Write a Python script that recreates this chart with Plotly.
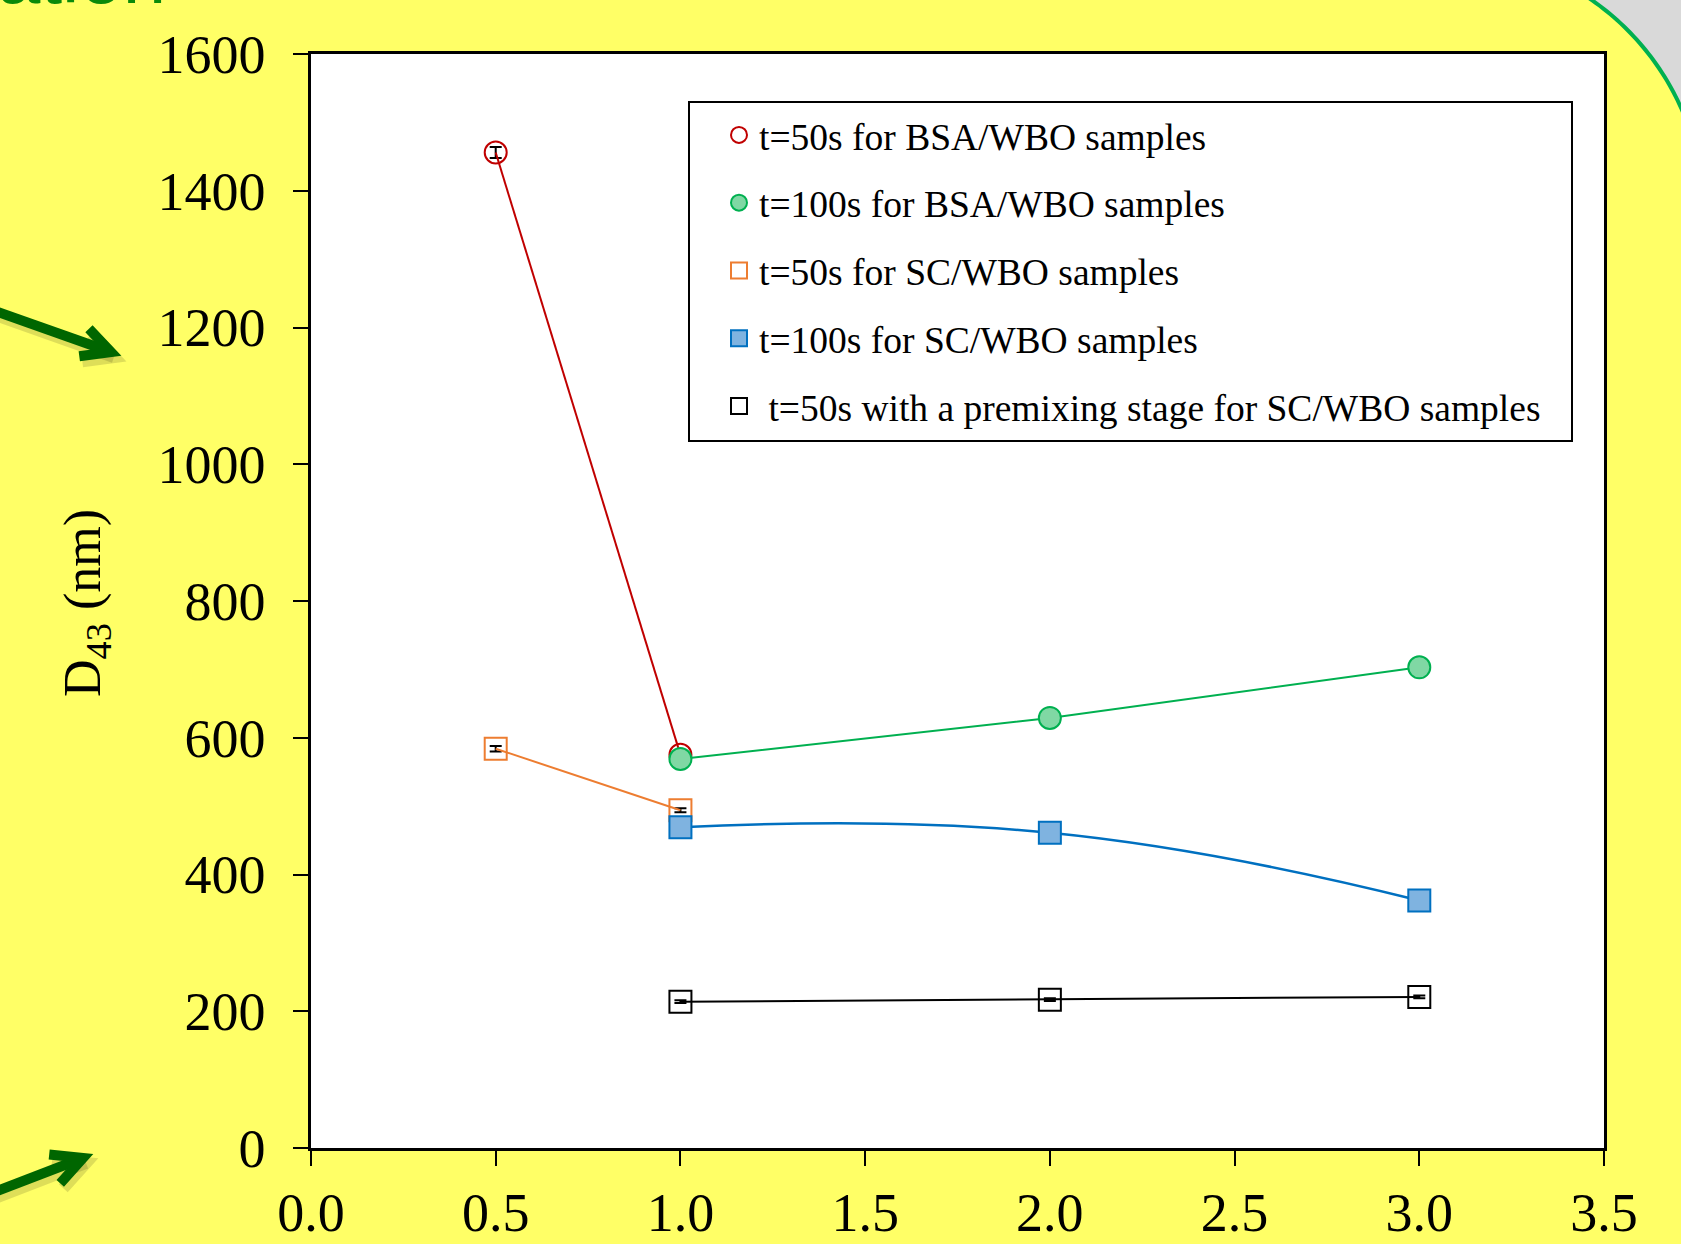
import math
import plotly.graph_objects as go

# ---- data -------------------------------------------------------------
x_bsa_50 = [0.5, 1.0]
d43_bsa_50 = [1456, 575]
err_bsa_50 = [8, 3]

x_bsa_100 = [1.0, 2.0, 3.0]
d43_bsa_100 = [569, 629, 703]
err_bsa_100 = [4, 4, 3]

x_sc_50 = [0.5, 1.0]
d43_sc_50 = [584, 494]
err_sc_50 = [4, 3]

x_sc_100 = [1.0, 2.0, 3.0]
d43_sc_100 = [469, 461, 362]
err_sc_100 = [3, 3, 3]

x_sc_pre = [1.0, 2.0, 3.0]
d43_sc_pre = [214, 217, 221]
err_sc_pre = [2, 2, 2]

legend_names = [
    "t=50s for BSA/WBO samples",
    "t=100s for BSA/WBO samples",
    "t=50s for SC/WBO samples",
    "t=100s for SC/WBO samples",
    "\u00a0t=50s with a premixing stage for SC/WBO samples",
]

x_ticks = [0.0, 0.5, 1.0, 1.5, 2.0, 2.5, 3.0, 3.5]
y_ticks = [0, 200, 400, 600, 800, 1000, 1200, 1400, 1600]

# ---- styling ----------------------------------------------------------
FONT = "Liberation Serif"
YELLOW = "#FFFF66"
RED = "#C00000"
GREEN = "#00B050"
GREEN_FILL = "#80D8A4"
ORANGE = "#ED7D31"
BLUE = "#0070C0"
BLUE_FILL = "#7FB3E0"
ARROW_GREEN = "#006600"
MSIZE = 22

W, H = 1681, 1244
L, R, T, B = 311, 1604, 54, 1148


def px(xf):
    return (xf - L) / (R - L)


def py(yf):
    return 1 - (yf - T) / (B - T)


def err(arr):
    return dict(type="data", array=arr, visible=True, color="black",
                thickness=2, width=6)


fig = go.Figure()

# plotted series
fig.add_trace(go.Scatter(
    x=x_bsa_50, y=d43_bsa_50, mode="lines+markers", showlegend=False,
    line=dict(color=RED, width=2),
    marker=dict(symbol="circle-open", size=MSIZE, color=RED, line=dict(width=2)),
    error_y=err(err_bsa_50)))
fig.add_trace(go.Scatter(
    x=x_sc_50, y=d43_sc_50, mode="lines+markers", showlegend=False,
    line=dict(color=ORANGE, width=2),
    marker=dict(symbol="square-open", size=MSIZE, color=ORANGE, line=dict(width=2)),
    error_y=err(err_sc_50)))
fig.add_trace(go.Scatter(
    x=x_bsa_100, y=d43_bsa_100, mode="lines+markers", showlegend=False,
    line=dict(color=GREEN, width=2),
    marker=dict(symbol="circle", size=MSIZE, color=GREEN_FILL,
                line=dict(color=GREEN, width=2)),
    error_y=err(err_bsa_100)))
fig.add_trace(go.Scatter(
    x=x_sc_100, y=d43_sc_100, mode="lines+markers", showlegend=False,
    line=dict(color=BLUE, width=2.5, shape="spline", smoothing=1.3),
    marker=dict(symbol="square", size=MSIZE, color=BLUE_FILL,
                line=dict(color=BLUE, width=2)),
    error_y=err(err_sc_100)))
fig.add_trace(go.Scatter(
    x=x_sc_pre, y=d43_sc_pre, mode="lines+markers", showlegend=False,
    line=dict(color="black", width=2),
    marker=dict(symbol="square-open", size=MSIZE, color="black", line=dict(width=2)),
    error_y=err(err_sc_pre)))

# legend entries (markers only)
legend_markers = [
    dict(symbol="circle-open", size=20, color=RED, line=dict(width=2)),
    dict(symbol="circle", size=20, color=GREEN_FILL, line=dict(color=GREEN, width=2)),
    dict(symbol="square-open", size=20, color=ORANGE, line=dict(width=2)),
    dict(symbol="square", size=20, color=BLUE_FILL, line=dict(color=BLUE, width=2)),
    dict(symbol="square-open", size=20, color="black", line=dict(width=2)),
]
for i, (name, mk) in enumerate(zip(legend_names, legend_markers)):
    fig.add_trace(go.Scatter(x=[None], y=[None], mode="markers", name=name,
                             marker=mk, legendgroup=f"g{i}"))

# ---- decorations ------------------------------------------------------
shapes = []

# legend frame
shapes.append(dict(type="rect", xref="paper", yref="paper",
                   x0=px(689), x1=px(1572), y0=py(441), y1=py(102),
                   fillcolor="white", line=dict(color="black", width=2),
                   layer="below"))

# grey corner cut by a green arc (top right)
cx, cy, rad = 1442, 215, 262
arc = [(cx + rad * math.cos(math.radians(a)), cy + rad * math.sin(math.radians(a)))
       for a in [-62 + i for i in range(0, 45)]]
corner = arc + [(1720, arc[-1][1]), (1720, -30), (arc[0][0], -30)]
path = "M " + " L ".join(f"{px(a):.5f},{py(b):.5f}" for a, b in corner) + " Z"
shapes.append(dict(type="path", path=path, xref="paper", yref="paper",
                   fillcolor="#D9D9D9", line=dict(width=0), layer="above"))
arc_path = "M " + " L ".join(f"{px(a):.5f},{py(b):.5f}" for a, b in arc)
shapes.append(dict(type="path", path=arc_path, xref="paper", yref="paper",
                   line=dict(color=GREEN, width=4), layer="above"))


def arrow(x0, y0, x1, y1, wing=32, spread=27):
    back = math.atan2(y0 - y1, x0 - x1)
    pts = []
    for s in (spread, -spread):
        a = back + math.radians(s)
        pts.append((x1 + wing * math.cos(a), y1 + wing * math.sin(a)))
    out = []
    for dx, dy, col, w in ((3, 5, "rgba(0,0,0,0.13)", 12), (0, 0, ARROW_GREEN, 10)):
        shaft = (f"M {px(x0 + dx):.5f},{py(y0 + dy):.5f} "
                 f"L {px(x1 + dx):.5f},{py(y1 + dy):.5f}")
        head = (f"M {px(pts[0][0] + dx):.5f},{py(pts[0][1] + dy):.5f} "
                f"L {px(x1 + dx):.5f},{py(y1 + dy):.5f} "
                f"L {px(pts[1][0] + dx):.5f},{py(pts[1][1] + dy):.5f}")
        for p in (shaft, head):
            out.append(dict(type="path", path=p, xref="paper", yref="paper",
                            line=dict(color=col, width=w), layer="above"))
    return out


shapes += arrow(-8, 310, 111, 352)
shapes += arrow(-8, 1193, 83, 1158, wing=34)

annotations = [
    dict(text="D<sub>43</sub> (nm)", xref="paper", yref="paper",
         x=px(86), y=py(603), xanchor="center", yanchor="middle",
         textangle=-90, showarrow=False,
         font=dict(family=FONT, size=52, color="black")),
    dict(text="ation", xref="paper", yref="paper", x=px(168), y=py(22),
         xanchor="right", yanchor="bottom", showarrow=False,
         font=dict(family="Liberation Sans", size=78, color="#0A8A0A")),
]

fig.update_layout(
    width=W, height=H, autosize=False,
    margin=dict(l=L, r=W - R, t=T, b=H - B, pad=0),
    paper_bgcolor=YELLOW, plot_bgcolor="white",
    font=dict(family=FONT, color="black"),
    shapes=shapes, annotations=annotations,
    legend=dict(x=px(719), y=py(104), xanchor="left", yanchor="top",
                bgcolor="rgba(0,0,0,0)", borderwidth=0,
                font=dict(family=FONT, size=37.5, color="black"),
                traceorder="grouped", tracegroupgap=16, itemwidth=30),
)
fig.update_xaxes(range=[0, 3.5], tickvals=x_ticks, tickformat=".1f",
                 automargin=False,
                 showgrid=False, zeroline=False, showline=True, linecolor="black",
                 linewidth=2.5, mirror=True, ticks="outside", ticklen=15,
                 tickwidth=1.5, tickcolor="black", ticklabelstandoff=0,
                 tickfont=dict(family=FONT, size=54, color="black"))
fig.update_yaxes(range=[0, 1600], tickvals=y_ticks, automargin=False,
                 showgrid=False, zeroline=False, showline=True, linecolor="black",
                 linewidth=2.5, mirror=True, ticks="outside", ticklen=15,
                 tickwidth=2, tickcolor="black", ticklabelstandoff=17,
                 tickfont=dict(family=FONT, size=54, color="black"))

fig.write_html("out.html")
